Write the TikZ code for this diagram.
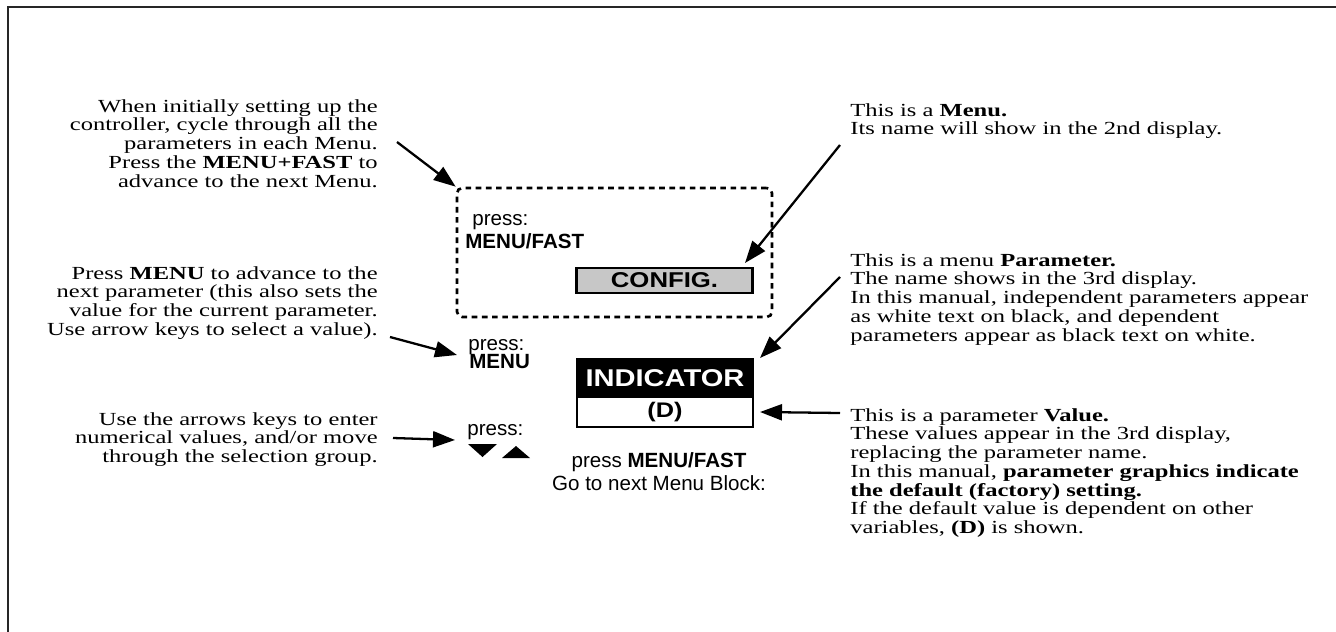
\documentclass[tikz,border=0pt]{standalone}
\usepackage{fontspec}
\setmainfont{Liberation Serif}
\newfontfamily\notefont[FakeStretch=1.33]{Liberation Serif}
\newfontfamily\keyfont{Liberation Sans}
\newfontfamily\dispfont[FakeStretch=1.2]{Liberation Sans}
\newcommand\notesize{\fontsize{10.5}{10.65}\selectfont\lineskiplimit=-5pt\relax}
\usetikzlibrary{arrows.meta,positioning}

\begin{document}
\begin{tikzpicture}[
  note/.style={inner sep=0pt, font=\notefont\notesize},
  lnote/.style={note, anchor=north east, align=right},
  rnote/.style={note, anchor=north west, align=left},
  keytxt/.style={inner sep=0pt, anchor=base west, font=\keyfont\fontsize{11.7}{13}\selectfont},
  menubox/.style={draw, line width=1.5pt, dash pattern=on 3.2pt off 2.6pt,
    rounded corners=3pt, minimum width=6.3cm, minimum height=2.58cm},
  dispbox/.style={draw, line width=1.4pt, outer sep=0pt, inner sep=0pt,
    minimum width=3.52cm, font=\dispfont\bfseries},
  arr/.style={-{Triangle[length=0.44cm,width=0.32cm]}, line width=1.3pt},
]
\useasboundingbox (0,0) rectangle (26.72,-12.64);
\draw[line width=1.6pt, black!85] (0.16,-12.64) -- (0.16,-0.14) -- (26.72,-0.14);

\node[lnote] (setup) at (7.56,-1.98) {When initially setting up the\\controller, cycle through all the\\parameters in each Menu.\\Press the \textbf{MENU+FAST} to\\advance to the next Menu.};
\node[lnote] (advance) at (7.56,-5.32) {Press \textbf{MENU} to advance to the\\next parameter (this also sets the\\value for the current parameter.\\Use arrow keys to select a value).};
\node[lnote] (arrows) at (7.56,-8.24) {Use the arrows keys to enter\\numerical values, and/or move\\through the selection group.};

\node[rnote] (menunote)  at (17.0,-2.06) {This is a \textbf{Menu.}\\Its name will show in the 2nd display.};
\node[rnote] (paramnote) at (17.0,-5.06) {This is a menu \textbf{Parameter.}\\The name shows in the 3rd display.\\In this manual, independent parameters appear\\as white text on black, and dependent\\parameters appear as black text on white.};
\node[rnote] (valnote)   at (17.0,-8.16) {This is a parameter \textbf{Value.}\\These values appear in the 3rd display,\\replacing the parameter name.\\In this manual, \textbf{parameter graphics indicate}\\\textbf{the default (factory) setting.}\\If the default value is dependent on other\\variables, \textbf{(D)} is shown.};

\node[menubox] (menu) at (12.29,-5.05) {};
\node[keytxt] (press1) at (9.44,-4.50) {press:};
\node[keytxt] (mfkey)  at (9.30,-4.96) {\textbf{MENU/FAST}};
\node[dispbox, fill=black!22, minimum height=0.5cm, font=\dispfont\bfseries\fontsize{12.2}{13}\selectfont] (config) at (13.29,-5.61) {CONFIG.};

\node[keytxt] (press2)  at (9.36,-7.00) {press:};
\node[keytxt] (menukey) at (9.38,-7.36) {\textbf{MENU}};
\node[dispbox, fill=black, text=white, minimum height=0.76cm, font=\dispfont\bfseries\fontsize{13.8}{15}\selectfont] (indicator) at (13.3,-7.56) {INDICATOR};
\node[dispbox, below=0pt of indicator, minimum height=0.6cm, font=\dispfont\bfseries\fontsize{12}{13}\selectfont] (value) {(D)};

\node[keytxt] (press3) at (9.34,-8.70) {press:};
\fill (9.36,-8.88) -- (9.94,-8.88) -- (9.65,-9.14) -- cycle;
\fill (10.04,-9.16) -- (10.60,-9.16) -- (10.32,-8.92) -- cycle;
\node[inner sep=0pt, anchor=north, align=center, font=\keyfont\fontsize{11.7}{13.1}\selectfont] (nextblock) at (13.18,-9.04) {press \textbf{MENU/FAST}\\Go to next Menu Block:};

\coordinate (setupend) at (7.94,-2.84);
\coordinate (advend)   at (7.80,-6.74);
\coordinate (advtip)   at (9.14,-7.10);
\coordinate (arrend)   at (7.86,-8.76);
\coordinate (arrtip)   at (9.10,-8.80);
\coordinate (menuend)  at (16.8,-2.90);
\coordinate (menutip)  at (14.9,-5.26);
\coordinate (parend)   at (16.8,-5.54);
\coordinate (partip)   at (15.2,-7.16);
\coordinate (valend)   at (16.8,-8.26);

\draw[arr] (setupend) -- (menu.north west);
\draw[arr] (advend) -- (advtip);
\draw[arr] (arrend) -- (arrtip);
\draw[arr] (menuend) -- (menutip);
\draw[arr] (parend) -- (partip);
\draw[arr] (valend) -- ([xshift=0.14cm]value.east);
\end{tikzpicture}
\end{document}
